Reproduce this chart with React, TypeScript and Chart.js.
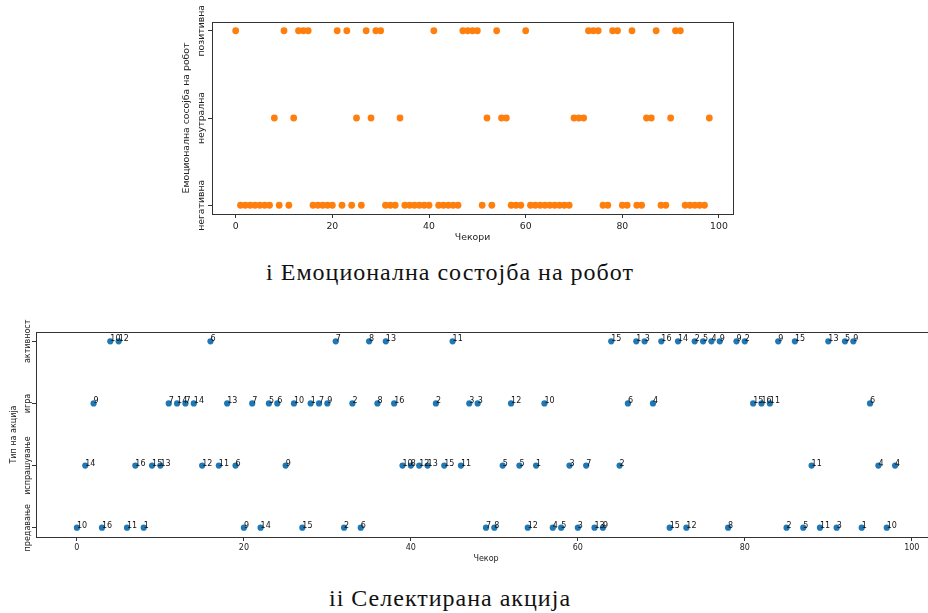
import React, { useEffect, useRef } from "react";
import { Chart, registerables } from "chart.js";

Chart.register(...registerables);

const FONT = "'DejaVu Sans', sans-serif";

// ---------- Data ----------
const xTickValues = [0, 20, 40, 60, 80, 100];

// Emotional state per step (0 = негативна, 1 = неутрална, 2 = позитивна)
const emotionLabels = ["негативна", "неутрална", "позитивна"];
const emotionByStep = [
  2, 0, 0, 0, 0, 0, 0, 0, 1, 0,
  2, 0, 1, 2, 2, 2, 0, 0, 0, 0,
  0, 2, 0, 2, 0, 1, 0, 2, 1, 2,
  2, 0, 0, 0, 1, 0, 0, 0, 0, 0,
  0, 2, 0, 0, 0, 0, 0, 2, 2, 2,
  2, 0, 1, 0, 2, 1, 1, 0, 0, 0,
  2, 0, 0, 0, 0, 0, 0, 0, 0, 0,
  1, 1, 1, 2, 2, 2, 0, 0, 2, 2,
  0, 0, 2, 0, 0, 1, 1, 2, 0, 0,
  1, 2, 2, 0, 0, 0, 0, 0, 1,
];

// Action type per step (0 = предавање, 1 = испрашување, 2 = игра, 3 = активност)
const actionLabels = ["предавање", "испрашување", "игра", "активност"];
const actionTypeByStep = [
  0, 1, 2, 0, 3, 3, 0, 1, 0, 1,
  1, 2, 2, 2, 2, 1, 3, 1, 2, 1,
  0, 2, 0, 2, 2, 1, 2, 0, 2, 2,
  2, 3, 0, 2, 0, 3, 2, 3, 2, 1,
  1, 1, 1, 2, 1, 3, 1, 2, 2, 0,
  0, 1, 2, 1, 0, 1, 2, 0, 0, 1,
  0, 1, 0, 0, 3, 1, 2, 3, 3, 2,
  3, 0, 3, 0, 3, 3, 3, 3, 0, 3,
  3, 2, 2, 2, 3, 0, 3, 0, 1, 0,
  3, 0, 3, 3, 0, 2, 1, 0, 1,
];
// Action id annotated next to each point
const actionIdByStep = [
  10, 14, 9, 16, 10, 12, 11, 16, 1, 15,
  13, 7, 14, 7, 14, 12, 6, 11, 13, 6,
  9, 7, 14, 5, 6, 9, 10, 15, 1, 7,
  9, 7, 2, 2, 6, 8, 8, 13, 16, 10,
  8, 12, 13, 2, 15, 11, 11, 3, 3, 7,
  8, 5, 12, 5, 12, 1, 10, 4, 5, 3,
  3, 7, 13, 9, 15, 2, 6, 1, 3, 4,
  16, 15, 14, 12, 2, 5, 4, 9, 8, 9,
  2, 15, 16, 11, 9, 2, 15, 5, 11, 11,
  13, 3, 5, 9, 1, 6, 4, 10, 4,
];

// ---------- Helpers ----------
type AxisTextOpts = {
  id: string;
  size: number;
  yLabels: string[];
  yTickX: number;
  yTitle: string;
  yTitleX: number;
  xTitle: string;
  xTitleY: number;
};

function axisTextPlugin(o: AxisTextOpts) {
  return {
    id: o.id,
    afterDraw(chart: any) {
      const { ctx, chartArea, scales } = chart;
      ctx.save();
      ctx.fillStyle = "#222";
      ctx.font = `${o.size}px ${FONT}`;
      ctx.textAlign = "center";
      ctx.textBaseline = "middle";
      o.yLabels.forEach((lab, i) => {
        const y = scales.y.getPixelForValue(i);
        ctx.save();
        ctx.translate(o.yTickX, y);
        ctx.rotate(-Math.PI / 2);
        ctx.fillText(lab, 0, 0);
        ctx.restore();
      });
      ctx.save();
      ctx.translate(o.yTitleX, (chartArea.top + chartArea.bottom) / 2);
      ctx.rotate(-Math.PI / 2);
      ctx.fillText(o.yTitle, 0, 0);
      ctx.restore();
      ctx.fillText(o.xTitle, (chartArea.left + chartArea.right) / 2, o.xTitleY);
      // frame
      ctx.strokeStyle = "#333";
      ctx.lineWidth = 1;
      const l = Math.round(chartArea.left) + 0.5;
      const t = Math.round(chartArea.top) + 0.5;
      const r = Math.round(chartArea.right) + 0.5;
      const b = Math.round(chartArea.bottom) + 0.5;
      ctx.strokeRect(l, t, r - l, b - t);
      ctx.restore();
    },
  };
}

function gridOpts() {
  return {
    display: true,
    drawOnChartArea: false,
    drawTicks: true,
    tickLength: 4,
    color: "#333",
    tickColor: "#333",
  };
}

// ---------- Charts ----------
function EmotionChart() {
  const ref = useRef<HTMLCanvasElement>(null);
  useEffect(() => {
    const canvas = ref.current!;
    const points = emotionByStep.map((v, i) => ({ x: i, y: v }));
    const chart = new Chart(canvas, {
      type: "scatter",
      data: {
        datasets: [
          {
            data: points,
            backgroundColor: "#ff7f0e",
            borderWidth: 0,
            pointRadius: 3.4,
            pointHoverRadius: 3.4,
          },
        ],
      },
      options: {
        responsive: false,
        animation: false,
        events: [],
        layout: { padding: { top: 22, right: 195, left: 0, bottom: 0 } },
        plugins: { legend: { display: false }, tooltip: { enabled: false } },
        scales: {
          x: {
            type: "linear",
            min: -4.9,
            max: 102.9,
            afterBuildTicks: (s: any) => {
              s.ticks = xTickValues.map((v) => ({ value: v }));
            },
            afterFit: (s: any) => {
              s.height = 36;
            },
            grid: gridOpts(),
            border: { display: false },
            ticks: {
              font: { family: FONT, size: 9.3 },
              color: "#222",
              padding: 3,
              maxRotation: 0,
              minRotation: 0,
            },
          },
          y: {
            type: "linear",
            min: -0.1,
            max: 2.1,
            afterBuildTicks: (s: any) => {
              s.ticks = emotionLabels.map((_, i) => ({ value: i }));
            },
            afterFit: (s: any) => {
              s.width = 212;
            },
            grid: gridOpts(),
            border: { display: false },
            ticks: { display: false },
          },
        },
      } as any,
      plugins: [
        axisTextPlugin({
          id: "axisText1",
          size: 9.3,
          yLabels: emotionLabels,
          yTickX: 202,
          yTitle: "Емоционална сосојба на робот",
          yTitleX: 187,
          xTitle: "Чекори",
          xTitleY: 238,
        }),
      ],
    });
    return () => chart.destroy();
  }, []);
  return (
    <canvas
      ref={ref}
      width={928}
      height={250}
      style={{ position: "absolute", left: 0, top: 0, width: 928, height: 250 }}
    />
  );
}

const pointLabelPlugin = {
  id: "pointLabels",
  afterDatasetsDraw(chart: any) {
    const { ctx } = chart;
    const meta = chart.getDatasetMeta(0);
    ctx.save();
    ctx.font = `8px ${FONT}`;
    ctx.fillStyle = "#111";
    ctx.textAlign = "left";
    ctx.textBaseline = "alphabetic";
    meta.data.forEach((el: any, i: number) => {
      ctx.fillText(String(actionIdByStep[i]), el.x, el.y);
    });
    ctx.restore();
  },
};

function ActionChart() {
  const ref = useRef<HTMLCanvasElement>(null);
  useEffect(() => {
    const canvas = ref.current!;
    const points = actionTypeByStep.map((v, i) => ({ x: i, y: v }));
    const chart = new Chart(canvas, {
      type: "scatter",
      data: {
        datasets: [
          {
            data: points,
            backgroundColor: "#1f77b4",
            borderWidth: 0,
            pointRadius: 3.1,
            pointHoverRadius: 3.1,
          },
        ],
      },
      options: {
        responsive: false,
        animation: false,
        events: [],
        layout: { padding: { top: 32, right: 4, left: 0, bottom: 0 } },
        plugins: { legend: { display: false }, tooltip: { enabled: false } },
        scales: {
          x: {
            type: "linear",
            min: -4.9,
            max: 102.9,
            afterBuildTicks: (s: any) => {
              s.ticks = xTickValues.map((v) => ({ value: v }));
            },
            afterFit: (s: any) => {
              s.height = 33;
            },
            grid: gridOpts(),
            border: { display: false },
            ticks: {
              font: { family: FONT, size: 8 },
              color: "#222",
              padding: 2,
              maxRotation: 0,
              minRotation: 0,
            },
          },
          y: {
            type: "linear",
            min: -0.15,
            max: 3.15,
            afterBuildTicks: (s: any) => {
              s.ticks = actionLabels.map((_, i) => ({ value: i }));
            },
            afterFit: (s: any) => {
              s.width = 36;
            },
            grid: gridOpts(),
            border: { display: false },
            ticks: { display: false },
          },
        },
      } as any,
      plugins: [
        pointLabelPlugin,
        axisTextPlugin({
          id: "axisText2",
          size: 8,
          yLabels: actionLabels,
          yTickX: 27.5,
          yTitle: "Тип на акција",
          yTitleX: 14,
          xTitle: "Чекор",
          xTitleY: 259,
        }),
      ],
    });
    return () => chart.destroy();
  }, []);
  return (
    <canvas
      ref={ref}
      width={940}
      height={270}
      style={{ position: "absolute", left: 0, top: 300, width: 940, height: 270 }}
    />
  );
}

const captionStyle: React.CSSProperties = {
  position: "absolute",
  left: 0,
  width: 900,
  textAlign: "center",
  fontFamily: "'Liberation Serif', serif",
  fontSize: 24,
  letterSpacing: "1px",
  lineHeight: "30px",
  color: "#111",
  whiteSpace: "nowrap",
};

export default function App() {
  return (
    <div
      style={{
        position: "absolute",
        left: 0,
        top: 0,
        width: 928,
        height: 613,
        overflow: "hidden",
        background: "#fff",
      }}
    >
      <EmotionChart />
      <div style={{ ...captionStyle, top: 257 }}>i Емоционална состојба на робот</div>
      <ActionChart />
      <div style={{ ...captionStyle, top: 583 }}>ii Селектирана акција</div>
    </div>
  );
}
